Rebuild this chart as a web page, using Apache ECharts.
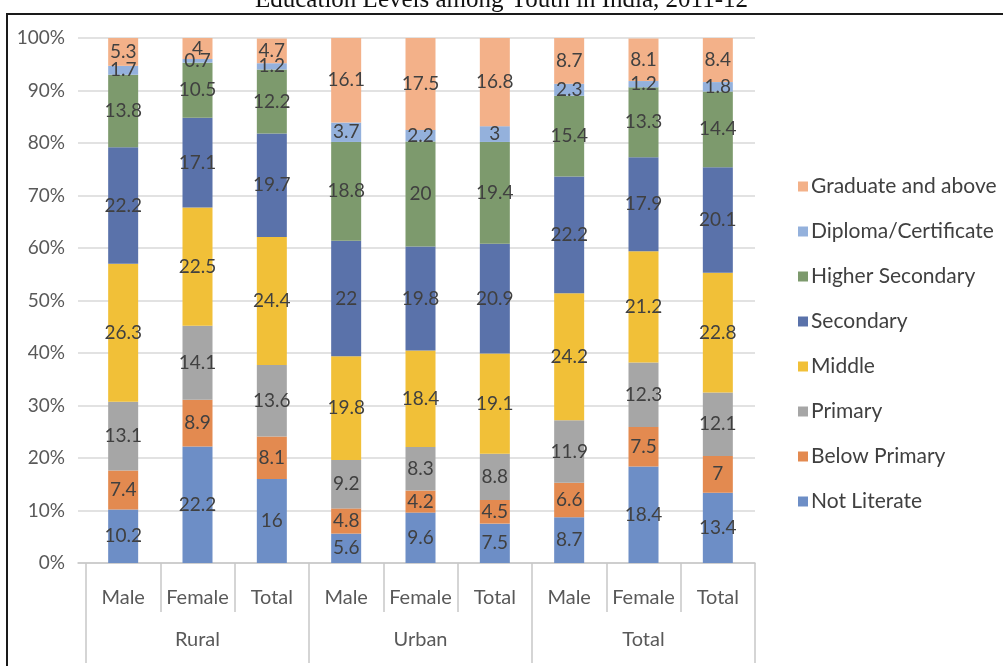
<!DOCTYPE html>
<html>
<head>
<meta charset="utf-8">
<script src="https://cdn.jsdelivr.net/npm/echarts@6/dist/echarts.min.js"></script>
<style>
  html, body { margin: 0; padding: 0; background: #ffffff; }
  #chart { width: 1003px; height: 666px; }
</style>
</head>
<body>
<div id="chart"></div>
<script>
// Education levels among youth in India, 2011-12 (percent of each group)
const subCategories = ['Male', 'Female', 'Total', 'Male', 'Female', 'Total', 'Male', 'Female', 'Total'];
const groups = ['Rural', 'Urban', 'Total'];
const yTicks = [0, 10, 20, 30, 40, 50, 60, 70, 80, 90, 100];

const notLiterate       = [10.2, 22.2, 16,   5.6, 9.6,  7.5,  8.7,  18.4, 13.4];
const belowPrimary      = [7.4,  8.9,  8.1,  4.8, 4.2,  4.5,  6.6,  7.5,  7];
const primary           = [13.1, 14.1, 13.6, 9.2, 8.3,  8.8,  11.9, 12.3, 12.1];
const middle            = [26.3, 22.5, 24.4, 19.8, 18.4, 19.1, 24.2, 21.2, 22.8];
const secondary         = [22.2, 17.1, 19.7, 22,  19.8, 20.9, 22.2, 17.9, 20.1];
const higherSecondary   = [13.8, 10.5, 12.2, 18.8, 20,  19.4, 15.4, 13.3, 14.4];
const diplomaCert       = [1.7,  0.7,  1.2,  3.7, 2.2,  3,    2.3,  1.2,  1.8];
const graduateAndAbove  = [5.3,  4,    4.7,  16.1, 17.5, 16.8, 8.7,  8.1,  8.4];

const seriesDefs = [
  { name: 'Not Literate',         data: notLiterate,      color: '#6d8ec6' },
  { name: 'Below Primary',        data: belowPrimary,     color: '#e38a50' },
  { name: 'Primary',              data: primary,          color: '#a6a6a6' },
  { name: 'Middle',               data: middle,           color: '#f1c038' },
  { name: 'Secondary',            data: secondary,        color: '#5a72aa' },
  { name: 'Higher Secondary',     data: higherSecondary,  color: '#7d9a6d' },
  { name: 'Diploma/Certificate',  data: diplomaCert,      color: '#94b1dc' },
  { name: 'Graduate and above',   data: graduateAndAbove, color: '#f3b189' }
];

const FONT = 'Lato, "Open Sans", sans-serif';
const LABEL_GREY = '#595959';
const LINE_GREY = '#c8c8c8';

const chart = echarts.init(document.getElementById('chart'), null, { renderer: 'canvas' });

const option = {
  animation: false,
  backgroundColor: '#ffffff',
  title: {
    text: 'Education Levels among Youth in India, 2011-12',
    left: 'center',
    top: -17,
    textStyle: { fontFamily: '"Liberation Serif", "DejaVu Serif", serif', fontSize: 25, fontWeight: 'normal', color: '#111' }
  },
  graphic: [{
    type: 'rect',
    shape: { x: 7, y: 14, width: 1010, height: 660 },
    style: { fill: 'none', stroke: '#1a1a1a', lineWidth: 2 },
    silent: true,
    z: 100
  }],
  legend: {
    orient: 'vertical',
    left: 793,
    top: 171,
    itemWidth: 10,
    itemHeight: 10,
    itemGap: 24,
    icon: 'rect',
    data: seriesDefs.map(s => s.name).reverse(),
    textStyle: { fontFamily: FONT, fontSize: 21, color: '#404040', padding: [0, 0, 0, -2] }
  },
  grid: [
    // background grid carrying the percentage gridlines and baseline
    { left: 78, right: 248, top: 38, bottom: 103 },
    // category grid carrying the bars
    { left: 86, right: 248, top: 38, bottom: 103 }
  ],
  xAxis: [
    {
      gridIndex: 0, type: 'value', min: 0, max: 1,
      axisLine: { show: true, onZero: false, lineStyle: { color: LINE_GREY, width: 1.5 } },
      axisTick: { show: false }, axisLabel: { show: false }, splitLine: { show: false }
    },
    {
      gridIndex: 1, type: 'category', data: subCategories, position: 'bottom',
      axisLine: { show: false },
      axisTick: { show: true, interval: 0, length: 49, lineStyle: { color: LINE_GREY, width: 1.5 } },
      axisLabel: { interval: 0, margin: 25, fontFamily: FONT, fontSize: 20, color: LABEL_GREY }
    },
    {
      gridIndex: 1, type: 'category', data: groups, position: 'bottom',
      axisLine: { show: false },
      axisTick: { show: true, interval: 0, length: 100, lineStyle: { color: LINE_GREY, width: 1.5 } },
      axisLabel: { interval: 0, margin: 67, fontFamily: FONT, fontSize: 20, color: LABEL_GREY }
    }
  ],
  yAxis: [
    {
      gridIndex: 0, type: 'value', min: yTicks[0], max: yTicks[yTicks.length - 1], interval: 10,
      axisLine: { show: false }, axisTick: { show: false },
      axisLabel: { margin: 13, fontFamily: FONT, fontSize: 19, color: LABEL_GREY, formatter: '{value}%' },
      splitLine: { show: true, lineStyle: { color: '#d9d9d9', width: 1.5 } }
    },
    {
      gridIndex: 1, type: 'value', min: 0, max: 100, show: false,
      splitLine: { show: false }
    }
  ],
  series: seriesDefs.map(s => ({
    name: s.name,
    type: 'bar',
    stack: 'education',
    xAxisIndex: 1,
    yAxisIndex: 1,
    barWidth: 30,
    data: s.data,
    itemStyle: { color: s.color },
    label: {
      show: true,
      position: 'inside',
      fontFamily: FONT,
      fontSize: 19,
      color: '#404040'
    }
  }))
};

chart.setOption(option);
</script>
</body>
</html>
